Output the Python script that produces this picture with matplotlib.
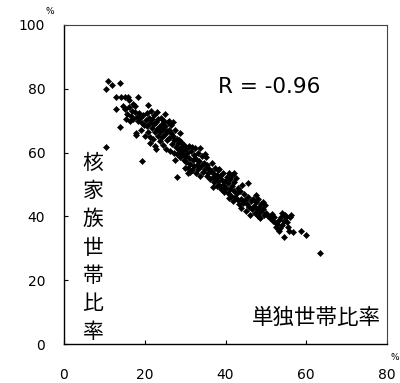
import matplotlib
matplotlib.use("Agg")
import matplotlib.pyplot as plt

# single-person household rate (%) vs nuclear-family household rate (%)
x_single = [
    10.4, 10.9, 12.0, 13.9, 10.4, 19.4, 13.9, 12.9, 14.0, 15.1, 15.9, 12.9, 16.2, 18.3, 17.8, 17.9,
    20.9, 28.7, 28.1, 30.8, 38.4, 40.9, 42.2, 45.6, 47.5, 45.0, 48.5, 49.3, 52.1, 53.9, 55.0, 55.9,
    54.5, 55.5, 56.8, 58.8, 59.9, 63.4, 52.6, 53.0,
    14.5, 15.2, 15.6, 16.0, 16.5, 16.8, 17.1, 17.5, 17.6, 18.0, 18.4, 18.6, 18.9, 19.2, 19.5, 19.8,
    17.2, 16.3, 15.4, 19.0,
    20.2, 20.5, 20.6, 20.8, 21.0, 21.2, 21.3, 21.5, 21.7, 21.9, 22.0, 22.2, 22.3, 22.5, 22.6, 22.8,
    23.0, 23.1, 23.3, 23.4, 23.6, 23.7, 23.9, 24.0, 24.2, 24.3, 24.5, 24.6, 24.8, 25.0, 25.1, 25.3,
    25.5, 25.6, 25.8, 21.4, 22.9, 20.0, 24.9,
    26.0, 26.1, 26.3, 26.5, 26.6, 26.8, 27.0, 27.2, 27.3, 27.5, 27.7, 27.9, 28.0, 28.2, 28.4, 28.6,
    28.8, 29.0, 29.1, 29.3, 29.5, 29.6, 29.8, 30.0, 27.4, 26.9, 25.9,
    30.2, 30.3, 30.5, 30.7, 30.9, 31.0, 31.2, 31.4, 31.6, 31.7, 31.9, 32.1, 32.2, 32.4, 32.6, 32.8,
    33.0, 33.1, 33.3, 33.5, 33.7, 33.8, 34.0, 34.2, 34.4, 34.6, 34.8, 35.0, 35.1, 35.3, 31.3, 29.9,
    35.5, 35.7, 36.0, 36.2, 36.4, 36.6, 36.8, 37.0, 37.2, 37.4, 37.6, 37.8, 38.0, 38.2, 38.5, 38.7,
    38.9, 39.1, 39.3, 39.5, 39.7, 39.9, 36.9, 38.1,
    40.1, 40.3, 40.5, 40.7, 40.9, 41.0, 41.2, 41.4, 41.6, 41.8, 42.0, 42.2, 42.4, 42.6, 42.8, 43.0,
    43.2, 43.4, 43.6, 43.8, 44.0, 44.3, 44.5, 44.8, 41.5, 43.9,
    45.3, 45.6, 45.9, 46.2, 46.5, 46.8, 47.0, 47.3, 47.6, 47.8, 48.1, 48.4, 48.6, 48.9, 49.2, 49.5,
    49.8, 50.1, 50.5, 51.0, 51.4, 51.8, 46.0, 48.0,
    52.4, 52.8, 53.2, 53.5, 53.8, 54.1, 54.4, 54.8, 55.2, 53.3, 56.2, 55.8,
]
y_nuclear = [
    79.8, 82.5, 81.2, 81.9, 61.9, 57.4, 68.1, 77.5, 77.5, 77.5, 77.5, 73.7, 76.5, 77.5, 66.2, 65.4,
    74.9, 66.0, 52.5, 53.5, 54.8, 53.5, 53.7, 50.6, 46.7, 41.8, 39.4, 44.6, 39.9, 41.2, 39.9, 39.7,
    33.4, 36.6, 35.0, 35.5, 34.2, 28.4, 36.8, 36.0,
    74.5, 73.8, 72.0, 74.2, 71.5, 73.0, 70.4, 72.8, 74.5, 71.2, 69.8, 72.5, 70.8, 69.4, 71.8, 68.6,
    75.2, 69.9, 70.6, 67.0,
    70.2, 72.3, 68.4, 66.5, 71.0, 69.2, 65.0, 73.0, 67.8, 70.4, 64.2, 68.9, 71.8, 66.6, 62.0, 69.6,
    67.3, 72.6, 65.2, 70.5, 68.0, 63.5, 66.4, 71.0, 69.0, 64.8, 67.5, 62.3, 70.0, 65.8, 68.4, 61.0,
    66.9, 63.9, 69.5, 63.0, 61.2, 65.2, 72.0,
    67.0, 64.5, 60.5, 66.0, 68.8, 62.8, 65.2, 59.9, 63.8, 67.2, 61.6, 64.4, 59.5, 62.9, 60.8, 64.0,
    58.6, 61.9, 63.3, 59.8, 60.9, 57.8, 62.5, 59.0, 57.8, 69.6, 70.0,
    61.0, 57.2, 59.9, 55.3, 62.2, 58.4, 56.4, 60.5, 61.9, 54.5, 57.6, 59.3, 55.8, 61.5, 53.6, 58.0,
    56.2, 60.0, 54.9, 57.3, 61.3, 52.8, 55.8, 59.0, 53.9, 56.8, 59.6, 55.0, 58.7, 52.6, 54.0, 55.2,
    56.2, 53.5, 55.0, 51.8, 54.2, 56.8, 52.4, 53.6, 50.9, 55.3, 52.0, 49.5, 53.1, 51.2, 50.0, 52.6,
    48.6, 51.5, 53.6, 49.8, 47.8, 51.0, 49.2, 54.5,
    49.0, 52.2, 47.2, 50.4, 45.8, 48.6, 51.6, 46.5, 49.5, 44.8, 48.0, 50.8, 46.2, 52.0, 47.4, 45.0,
    49.0, 43.8, 47.9, 45.6, 50.0, 44.2, 47.0, 45.2, 53.0, 42.5,
    44.0, 46.2, 43.0, 44.8, 42.2, 45.5, 43.2, 41.0, 44.5, 42.2, 45.6, 43.0, 41.5, 44.0, 42.4, 40.4,
    43.5, 41.0, 40.2, 39.4, 40.8, 38.6, 40.5, 40.2,
    38.0, 37.5, 38.8, 36.4, 39.8, 37.4, 38.6, 40.5, 38.2, 35.5, 40.3, 35.4,
]

x_ticks = [0, 20, 40, 60, 80]
y_ticks = [0, 20, 40, 60, 80, 100]
r_label = "R = -0.96"
x_label = "単独世帯比率"
y_label = "核家族世帯比率"
unit = "%"

W, H = 400, 383
fig = plt.figure(figsize=(W / 100, H / 100), dpi=100)
ax = fig.add_axes([64 / W, 1 - 344 / H, (387 - 64) / W, (344 - 25) / H])

ax.plot(x_single, y_nuclear, linestyle="none", marker="D", markersize=3.1,
        color="black", markeredgewidth=0.4)

ax.set_xlim(0, 80)
ax.set_ylim(0, 100)
ax.set_xticks(x_ticks)
ax.set_yticks(y_ticks)
ax.set_xticklabels([str(v) for v in x_ticks])
ax.set_yticklabels([str(v) for v in y_ticks])
ax.tick_params(axis="x", direction="in", length=3, width=0.8, pad=17,
               labelsize=10, colors="black")
ax.tick_params(axis="y", direction="in", length=3, width=0.8, pad=13.5,
               labelsize=10, colors="black")
for s in ["left", "bottom"]:
    ax.spines[s].set_linewidth(1.0)
    ax.spines[s].set_color("black")
for s in ["top", "right"]:
    ax.spines[s].set_linewidth(0.8)
    ax.spines[s].set_color("#444444")

jp = ["Noto Sans CJK JP", "DejaVu Sans"]
ax.text((218 - 64) / (387 - 64) * 80, (344 - 87) / 3.19, r_label,
        fontsize=15.5, ha="left", va="center", family="DejaVu Sans")

# vertical y label, one character per line
for i, ch in enumerate(y_label):
    fig.text(93 / W, 1 - (163 + i * 28.2) / H, ch, fontsize=15, family=jp,
             ha="center", va="center")

fig.text(316 / W, 1 - 318 / H, x_label, fontsize=15.5, family=jp,
         ha="center", va="center")

fig.text(50 / W, 1 - 12 / H, unit, fontsize=6.5, ha="center", va="center")
fig.text(395 / W, 1 - 357 / H, unit, fontsize=6.5, ha="center", va="center")

fig.savefig("out.png", dpi=100)
